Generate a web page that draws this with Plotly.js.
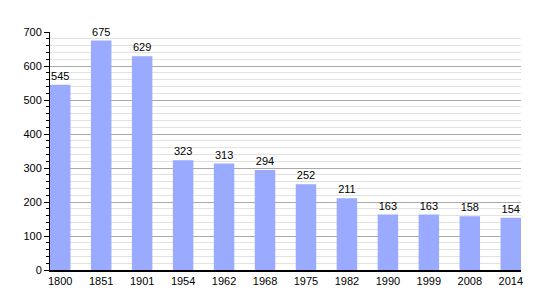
<!DOCTYPE html>
<html>
<head>
<meta charset="utf-8">
<script src="https://cdn.plot.ly/plotly-3.0.1.min.js"></script>
<style>html,body{margin:0;padding:0;background:#fff;}#chart{width:550px;height:300px;}</style>
</head>
<body>
<div id="chart"></div>
<script>
var years = ["1800","1851","1901","1954","1962","1968","1975","1982","1990","1999","2008","2014"];
var population = [545, 675, 629, 323, 313, 294, 252, 211, 163, 163, 158, 154];

var trace = {
  type: "bar",
  x: years,
  y: population,
  text: population.map(String),
  textposition: "outside",
  cliponaxis: false,
  textfont: {family: "Liberation Sans, Arial, sans-serif", size: 11, color: "#000"},
  marker: {color: "rgb(153,170,255)", line: {width: 0}},
  hoverinfo: "x+y"
};

var layout = {
  width: 550, height: 300,
  margin: {l: 50, r: 29, t: 32, b: 30},
  paper_bgcolor: "#fff",
  plot_bgcolor: "#fff",
  bargap: 0.5,
  showlegend: false,
  font: {family: "Liberation Sans, Arial, sans-serif", size: 11, color: "#000"},
  xaxis: {
    type: "category",
    range: [-0.25, 11.25],
    showline: true, linecolor: "#000", linewidth: 1.5,
    ticks: "", showgrid: false, zeroline: false,
    tickfont: {size: 11, color: "#000"}
  },
  yaxis: {
    range: [0, 700],
    tick0: 0, dtick: 100,
    showline: true, linecolor: "#000", linewidth: 1,
    ticks: "outside", ticklen: 5, tickcolor: "#000",
    showgrid: true, gridcolor: "#aaaaaa", gridwidth: 1,
    zeroline: false,
    tickfont: {size: 11, color: "#000"},
    minor: {dtick: 20, ticks: "outside", ticklen: 3, tickcolor: "#000", showgrid: true, gridcolor: "#e2e2e2", gridwidth: 1}
  }
};

Plotly.newPlot("chart", [trace], layout, {staticPlot: true, displayModeBar: false});
</script>
</body>
</html>
